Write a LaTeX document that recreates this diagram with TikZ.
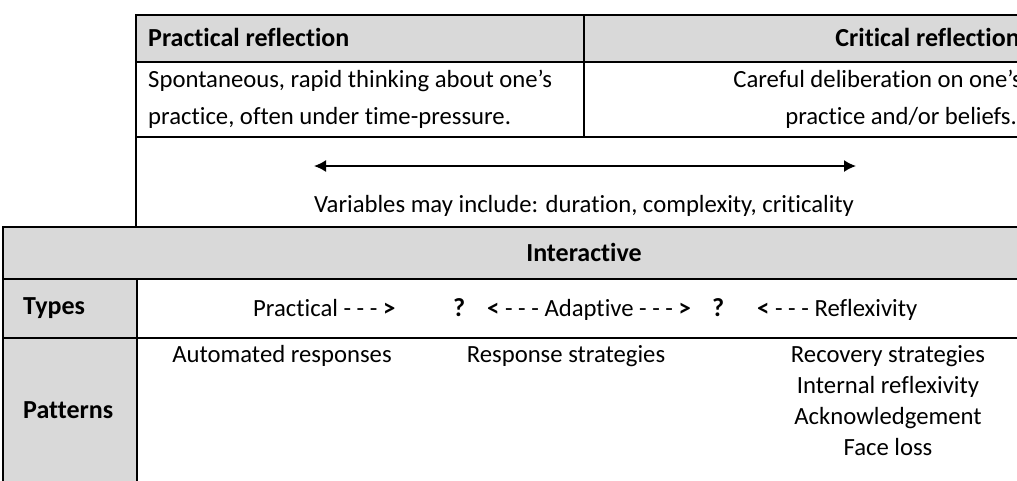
\documentclass[tikz,border=0pt]{standalone}
\usepackage{fontspec}
\setmainfont[Ligatures=NoCommon]{Carlito}
\usetikzlibrary{arrows.meta}
\definecolor{hdrgray}{HTML}{D9D9D9}
\begin{document}
\begin{tikzpicture}[x=1pt,y=-1pt,
  rule/.style={line width=1.6pt,black},
  txt/.style={inner sep=0pt,font=\fontsize{24.7}{31}\selectfont},
  hdr/.style={txt,font=\fontsize{26}{31}\selectfont\bfseries},
  twoway/.style={line width=1.6pt,>={Latex[length=12pt,width=12pt]},<->}]
\useasboundingbox (0,0) rectangle (1017,480);
\clip (0,0) rectangle (1017,480);
% shaded header cells
\fill[hdrgray] (136,15) rectangle (1032,62);
\fill[hdrgray] (3,227) rectangle (1032,279);
\fill[hdrgray] (3,279) rectangle (137,490);
% upper table rules
\draw[rule] (136,227) -- (136,15) -- (1032,15);
\draw[rule] (136,62) -- (1032,62);
\draw[rule] (136,137) -- (1032,137);
\draw[rule] (584,15) -- (584,137);
% lower table rules
\draw[rule] (3,490) -- (3,227) -- (1032,227);
\draw[rule] (3,279) -- (1032,279);
\draw[rule] (3,338) -- (1032,338);
\draw[rule] (137,279) -- (137,490);
% upper table text
\node[hdr,anchor=base west] (prh) at (148,46) {Practical reflection};
\node[hdr,anchor=base east] (crh) at (1020,46) {Critical reflection};
\node[txt,anchor=base west] (pr1) at (148,87) {Spontaneous, rapid thinking about one’s};
\node[txt,anchor=base west] (pr2) at (148,124) {practice, often under time-pressure.};
\node[txt,anchor=base east] (cr1) at (1022,87) {Careful deliberation on one’s};
\node[txt,anchor=base east] (cr2) at (1017,124) {practice and/or beliefs.};
\coordinate (al) at (314,166);
\coordinate (ar) at (856,166);
\draw[twoway] (al) -- (ar);
\node[txt,anchor=base] (var) at (584,212) {Variables may include: duration, complexity, criticality};
% lower table text
\node[hdr,anchor=base] (int) at (584,261) {Interactive};
\node[hdr,anchor=base west] (typ) at (23,314) {Types};
\node[hdr,anchor=base west] (pat) at (23,418) {Patterns};
\node[txt,anchor=base west] (t1) at (253,316) {Practical - - - \textbf{>}};
\node[hdr,anchor=base west] (q1) at (453,316) {?};
\node[txt,anchor=base west] (t2) at (487,316) {\textbf{<} - - - Adaptive - - - \textbf{>}};
\node[hdr,anchor=base west] (q2) at (712,316) {?};
\node[txt,anchor=base west] (t3) at (757,316) {\textbf{<} - - - Reflexivity};
\node[txt,anchor=base] (p1) at (282,362) {Automated responses};
\node[txt,anchor=base] (p2) at (566,362) {Response strategies};
\node[txt,anchor=base] (p3) at (888,362) {Recovery strategies};
\node[txt,anchor=base] (p4) at (888,393) {Internal reflexivity};
\node[txt,anchor=base] (p5) at (888,424) {Acknowledgement};
\node[txt,anchor=base] (p6) at (888,455) {Face loss};
\end{tikzpicture}
\end{document}
